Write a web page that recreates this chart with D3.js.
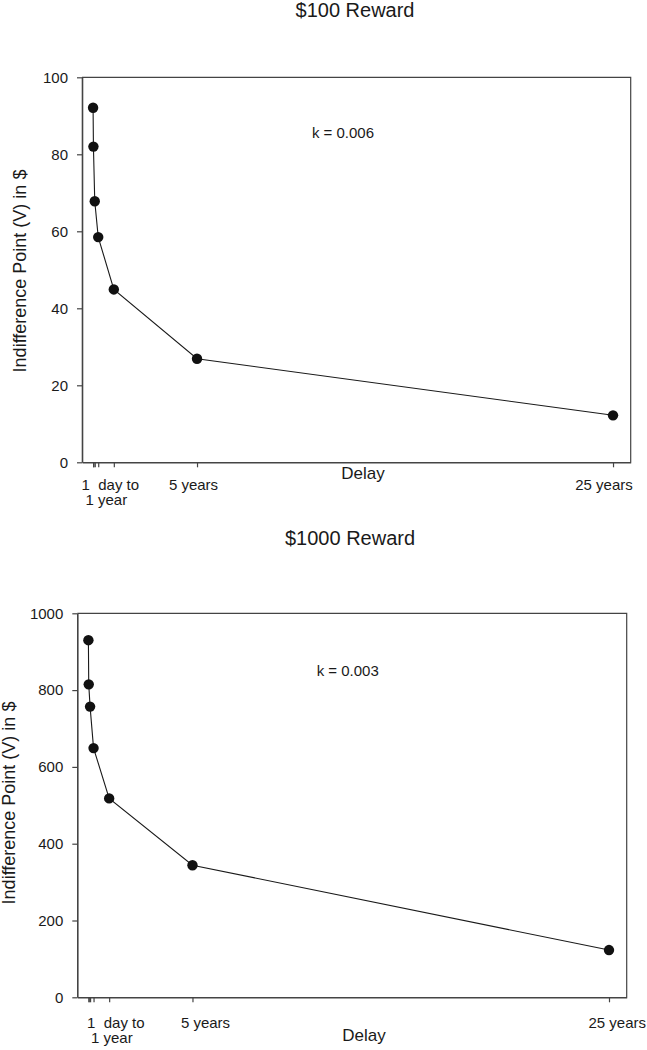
<!DOCTYPE html>
<html>
<head>
<meta charset="utf-8">
<script src="https://cdn.jsdelivr.net/npm/d3@7"></script>
<style>
  body { margin: 0; background: #fff; }
  text { font-family: "Liberation Sans", Arial, sans-serif; fill: #1a1a1a; }
</style>
</head>
<body>
<div class="chart"></div>
<script>
// delays in years: 1 day, 1 week, 1 month, 3 months, 1 year, 5 years, 25 years
var delayYears = [1 / 365, 7 / 365, 1 / 12, 0.25, 1, 5, 25];
var values100 = [92.1, 82.0, 67.8, 58.5, 44.9, 26.9, 12.2];
var values1000 = [930, 815, 757, 649, 518, 344, 123];
var yTicks100 = [0, 20, 40, 60, 80, 100];
var yTicks1000 = [0, 200, 400, 600, 800, 1000];
var xTickValues = [1 / 365, 7 / 365, 1 / 12, 0.25, 1, 5, 25];
var xTickLabels = ["", "", "", "", "", "5 years", "25 years"];
var rangeLabel = ["1\u00a0\u00a0day to", "1 year"];
var titles = ["$100 Reward", "$1000 Reward"];
var kLabels = ["k = 0.006", "k = 0.003"];

var svg = d3.select(".chart").append("svg")
    .attr("width", 647)
    .attr("height", 1050);

var panels = [
  { values: values100, yTicks: yTicks100, yMax: 100, title: titles[0], k: kLabels[0],
    left: 82, right: 630.7, top: 77.3, bottom: 462.3,
    titleX: 355, titleY: 17, kX: 343, kY: 138,
    yLabelX: 26, yLabelY: 271, delayX: 363, delayY: 479,
    tickLabelY: 28, tickDx: { 5: -4, 25: -9.5 }, rangeDx: -3.5 },
  { values: values1000, yTicks: yTicks1000, yMax: 1000, title: titles[1], k: kLabels[1],
    left: 77.3, right: 626.7, top: 613.3, bottom: 997.3,
    titleX: 350, titleY: 545, kX: 347.7, kY: 675.5,
    yLabelX: 15, yLabelY: 803, delayX: 364, delayY: 1041,
    tickLabelY: 31, tickDx: { 5: 12.5, 25: 7.7 }, rangeDx: 6.7 }
];

panels.forEach(drawPanel);

function drawPanel(p) {
  var x = d3.scaleLinear().domain([-0.53, 25.85]).range([p.left, p.right]);
  var y = d3.scaleLinear().domain([0, p.yMax]).range([p.bottom, p.top]);

  var g = svg.append("g");

  // title
  g.append("text")
      .attr("x", p.titleX).attr("y", p.titleY)
      .attr("text-anchor", "middle")
      .style("font-size", "20px")
      .text(p.title);

  // top and right frame
  g.append("path")
      .attr("d", "M" + p.left + "," + p.top + "H" + p.right + "V" + p.bottom)
      .attr("fill", "none")
      .attr("stroke", "#444")
      .attr("stroke-width", 1.2);

  // x axis
  var xAxis = g.append("g")
      .attr("transform", "translate(0," + p.bottom + ")")
      .call(d3.axisBottom(x)
        .tickValues(xTickValues)
        .tickSize(5)
        .tickSizeOuter(0)
        .tickFormat(function(d, i) { return xTickLabels[i]; }));
  xAxis.select(".domain").attr("stroke", "#444").attr("stroke-width", 1.6);
  xAxis.selectAll(".tick line").attr("stroke", "#444").attr("stroke-width", 1.2);
  xAxis.selectAll(".tick text")
      .filter(function() { return this.textContent === ""; })
      .remove();
  xAxis.selectAll(".tick text")
      .attr("y", p.tickLabelY)
      .attr("dy", 0)
      .attr("dx", function(d) { return p.tickDx[d] || 0; })
      .attr("fill", "#1a1a1a")
      .style("font-size", "15px")
      .style("font-family", "'Liberation Sans', Arial, sans-serif");

  // the "1 day to 1 year" range label under the short ticks
  var rl = g.append("text")
      .attr("text-anchor", "middle")
      .style("font-size", "15px");
  rl.append("tspan")
      .attr("x", x(1) + p.rangeDx)
      .attr("y", p.bottom + p.tickLabelY)
      .text(rangeLabel[0]);
  rl.append("tspan")
      .attr("x", x(1) + p.rangeDx - 4)
      .attr("y", p.bottom + p.tickLabelY + 15)
      .text(rangeLabel[1]);

  // y axis
  var yAxis = g.append("g")
      .attr("transform", "translate(" + p.left + ",0)")
      .call(d3.axisLeft(y)
        .tickValues(p.yTicks)
        .tickSize(5)
        .tickPadding(9)
        .tickSizeOuter(0)
        .tickFormat(d3.format("d")));
  yAxis.select(".domain").attr("stroke", "#444").attr("stroke-width", 1.6);
  yAxis.selectAll(".tick line").attr("stroke", "#444").attr("stroke-width", 1.2);
  yAxis.selectAll(".tick text")
      .attr("fill", "#1a1a1a")
      .style("font-size", "15px")
      .style("font-family", "'Liberation Sans', Arial, sans-serif");

  // axis titles
  g.append("text")
      .attr("transform", "translate(" + p.yLabelX + "," + p.yLabelY + ") rotate(-90)")
      .attr("text-anchor", "middle")
      .style("font-size", "18px")
      .text("Indifference Point (V) in $");

  g.append("text")
      .attr("x", p.delayX).attr("y", p.delayY)
      .attr("text-anchor", "middle")
      .style("font-size", "17px")
      .text("Delay");

  // k label
  g.append("text")
      .attr("x", p.kX).attr("y", p.kY)
      .attr("text-anchor", "middle")
      .style("font-size", "15px")
      .text(p.k);

  // line + points
  var line = d3.line()
      .x(function(d, i) { return x(delayYears[i]); })
      .y(function(d) { return y(d); });

  g.append("path")
      .datum(p.values)
      .attr("d", line)
      .attr("fill", "none")
      .attr("stroke", "#1a1a1a")
      .attr("stroke-width", 1.1);

  g.selectAll("circle")
      .data(p.values)
      .enter()
      .append("circle")
      .attr("cx", function(d, i) { return x(delayYears[i]); })
      .attr("cy", function(d) { return y(d); })
      .attr("r", 5.2)
      .attr("fill", "#111");
}
</script>
</body>
</html>
